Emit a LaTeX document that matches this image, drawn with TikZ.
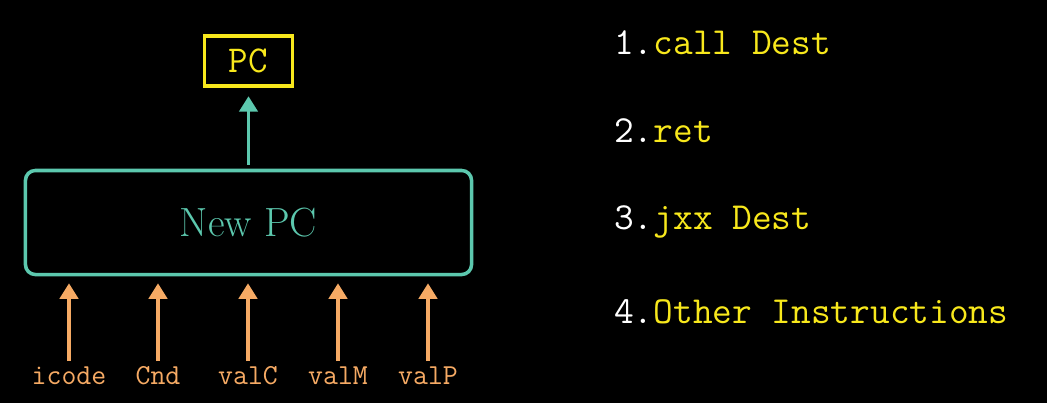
\documentclass[tikz,border=0pt]{standalone}
\usepackage{fontspec}
\usepackage{tikz}
\usetikzlibrary{arrows.meta}

\definecolor{regyellow}{HTML}{F8E81C}
\definecolor{logicteal}{HTML}{5CC8AE}
\definecolor{sigorange}{HTML}{F6AA64}

\tikzset{
  big/.style={font=\fontsize{29}{33}\selectfont},
  sig/.style={text=sigorange,font=\ttfamily\fontsize{20.6}{24}\selectfont,
    anchor=base,inner sep=2pt,text height=12pt},
  uparrow/.style={line width=2.5pt,-{Triangle[width=13pt,length=11pt]}},
  item/.style={anchor=base west,inner sep=0pt,text=regyellow,
    font=\ttfamily\fontsize{27.2}{31}\selectfont}
}

\begin{document}
\begin{tikzpicture}[x=0.025cm,y=-0.025cm]
      % Background
      \fill [black] (0,0) rectangle (1047,403);

      % PC register
      \node [draw=regyellow,line width=2.5pt,text=regyellow,font=\ttfamily\fontsize{27}{31}\selectfont,
        minimum width=2.2cm,minimum height=1.25cm] (pc) at (248.5,61) {PC};

      % New PC logic
      \node [draw=logicteal,line width=2.5pt,rounded corners=7pt,text=logicteal,big,
        minimum width=11.15cm,minimum height=2.6cm] (newpc) at (248.5,222.5) {New PC};
      \draw [uparrow,logicteal,shorten <=3pt,shorten >=6pt] (newpc.north) -- (pc.south);

      % Inputs
      \node [sig] (icode) at (69,384) {icode};
      \node [sig] (cnd) at (158,384) {Cnd};
      \node [sig] (valc) at (248,384) {valC};
      \node [sig] (valm) at (338,384) {valM};
      \node [sig] (valp) at (428,384) {valP};

      % Edges
      \draw [uparrow,sigorange,shorten <=2pt,shorten >=5pt] (icode.north) -- (icode.north |- newpc.south);
      \draw [uparrow,sigorange,shorten <=2pt,shorten >=5pt] (cnd.north) -- (cnd.north |- newpc.south);
      \draw [uparrow,sigorange,shorten <=2pt,shorten >=5pt] (valc.north) -- (valc.north |- newpc.south);
      \draw [uparrow,sigorange,shorten <=2pt,shorten >=5pt] (valm.north) -- (valm.north |- newpc.south);
      \draw [uparrow,sigorange,shorten <=2pt,shorten >=5pt] (valp.north) -- (valp.north |- newpc.south);

      % Instruction list
      \node [item] (call) at (614,54) {\textcolor{white}{1.}call Dest};
      \node [item] (ret) at (614,142) {\textcolor{white}{2.}ret};
      \node [item] (jxx) at (614,229) {\textcolor{white}{3.}jxx Dest};
      \node [item] (other) at (614,323) {\textcolor{white}{4.}Other Instructions};
\end{tikzpicture}
\end{document}
